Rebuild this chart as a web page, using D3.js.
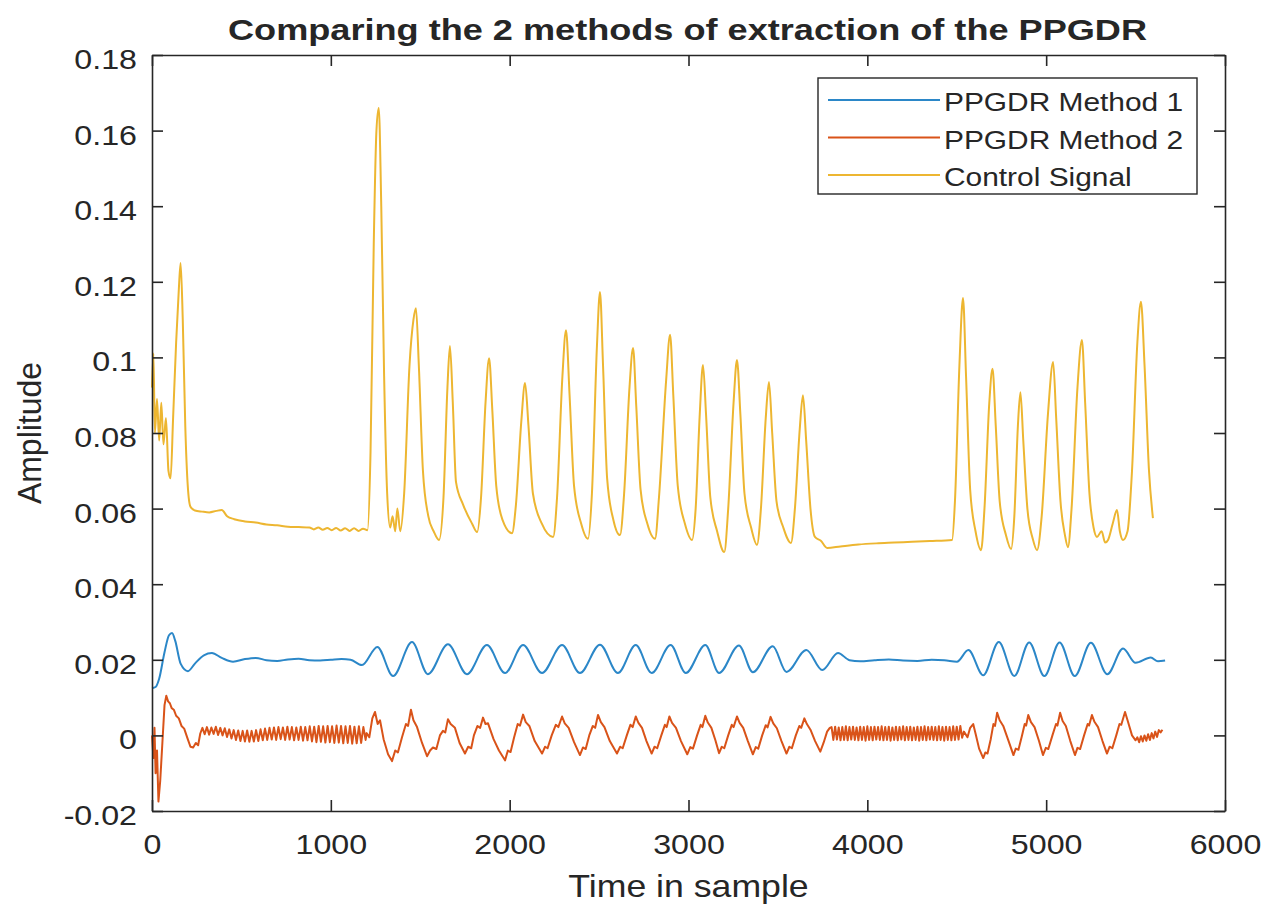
<!DOCTYPE html>
<html>
<head>
<meta charset="utf-8">
<script src="https://cdn.jsdelivr.net/npm/d3@7"></script>
<style>
  body { margin: 0; background: #fff; }
  svg { display: block; }
  text { font-family: "Liberation Sans", Arial, Helvetica, sans-serif; fill: #262626; }
</style>
</head>
<body>
<svg id="chart" width="1273" height="909"></svg>
<script>
// ---- Data: sample index vs amplitude ----
const chartTitle = "Comparing the 2 methods of extraction of the PPGDR";
const xLabel = "Time in sample";
const yLabel = "Amplitude";
const seriesNames = ["PPGDR Method 1", "PPGDR Method 2", "Control Signal"];

const xTickValues = [0, 1000, 2000, 3000, 4000, 5000, 6000];
const xTickLabels = ["0", "1000", "2000", "3000", "4000", "5000", "6000"];
const yTickValues = [-0.02, 0, 0.02, 0.04, 0.06, 0.08, 0.1, 0.12, 0.14, 0.16, 0.18];
const yTickLabels = ["-0.02", "0", "0.02", "0.04", "0.06", "0.08", "0.1", "0.12", "0.14", "0.16", "0.18"];

// PPGDR Method 1 : [sample, amplitude]
const method1 = [
  [0, 0.0125], [20, 0.0128], [40, 0.0150], [70, 0.0220], [95, 0.0265], [112, 0.0271],
  [130, 0.0250], [160, 0.0190], [201, 0.0170], [240, 0.0190], [290, 0.0212], [335, 0.0218],
  [390, 0.0205], [453, 0.0195], [520, 0.0202], [580, 0.0205], [640, 0.0199], [700, 0.0197],
  [760, 0.0201], [820, 0.0203], [880, 0.0199], [940, 0.0198], [1000, 0.0200], [1060, 0.0202],
  [1110, 0.0200], [1174, 0.0186], [1260, 0.0234], [1348, 0.0157], [1454, 0.0247], [1543, 0.0162],
  [1655, 0.0241], [1761, 0.0162], [1873, 0.0239], [1974, 0.0165], [2075, 0.0239], [2181, 0.0165],
  [2293, 0.0239], [2393, 0.0165], [2505, 0.0240], [2605, 0.0165], [2705, 0.0239], [2794, 0.0165],
  [2900, 0.0239], [2985, 0.0165], [3094, 0.0239], [3171, 0.0165], [3282, 0.0238], [3360, 0.0167],
  [3471, 0.0236], [3548, 0.0168], [3659, 0.0226], [3748, 0.0173], [3836, 0.0218], [3900, 0.0199],
  [3960, 0.0196], [4040, 0.0199], [4120, 0.0201], [4200, 0.0198], [4280, 0.0197], [4360, 0.0200],
  [4430, 0.0199], [4501, 0.0195], [4565, 0.0226], [4648, 0.0159], [4735, 0.0247], [4822, 0.0157],
  [4905, 0.0246], [4990, 0.0157], [5075, 0.0246], [5160, 0.0157], [5250, 0.0245], [5342, 0.0162],
  [5430, 0.0230], [5500, 0.0192], [5585, 0.0206], [5625, 0.0196], [5665, 0.0198]
];

// PPGDR Method 2 : start-up transient
const method2Start = [
  [0, 0.0000], [8, -0.0060], [14, 0.0020], [20, -0.0100], [28, -0.0040], [36, -0.0175],
  [46, -0.0120], [58, -0.0020], [70, 0.0080], [80, 0.0105], [90, 0.0090], [100, 0.0085],
  [110, 0.0072], [122, 0.0068], [135, 0.0052], [150, 0.0045], [165, 0.0025], [180, 0.0018],
  [200, -0.0010], [215, -0.0030], [230, -0.0032], [245, -0.0020], [258, -0.0026], [270, 0.0005]
];
// PPGDR Method 2 : fine ripple, samples 282 .. 1194.5 every 12.5
const method2RippleA = [
  0.0020, 0.0003, 0.0022, 0.0002, 0.0021, 0.0004, 0.0023, 0.0001, 0.0020, 0.0000,
  0.0019, -0.0004, 0.0016, -0.0008, 0.0014, -0.0012, 0.0013, -0.0015, 0.0012, -0.0016,
  0.0013, -0.0017, 0.0012, -0.0016, 0.0014, -0.0015, 0.0016, -0.0013, 0.0018, -0.0012,
  0.0020, -0.0011, 0.0021, -0.0012, 0.0022, -0.0010, 0.0021, -0.0012, 0.0023, -0.0011,
  0.0022, -0.0013, 0.0021, -0.0012, 0.0023, -0.0014, 0.0022, -0.0013, 0.0024, -0.0016,
  0.0023, -0.0018, 0.0025, -0.0017, 0.0024, -0.0019, 0.0025, -0.0018, 0.0024, -0.0020,
  0.0026, -0.0019, 0.0025, -0.0021, 0.0024, -0.0020, 0.0025, -0.0022, 0.0023, -0.0021,
  0.0024, -0.0020, 0.0022, -0.0012
];
const rippleAStart = 282, rippleAStep = 12.5;
// PPGDR Method 2 : oscillating stretch
const method2Mid = [
  [1200, 0.0006], [1215, -0.0005], [1232, 0.0045], [1247, 0.0062], [1262, 0.0030], [1275, 0.0040],
  [1295, -0.0010], [1320, -0.0050], [1342, -0.0068], [1360, -0.0040], [1375, -0.0045], [1398, -0.0005],
  [1420, 0.0030], [1432, 0.0025], [1448, 0.0068], [1462, 0.0040], [1482, 0.0022], [1510, -0.0020],
  [1538, -0.0055], [1555, -0.0040], [1571, -0.0032], [1590, -0.0036], [1610, 0.0000], [1627, 0.0012],
  [1640, 0.0008], [1655, 0.0043], [1670, 0.0030], [1694, 0.0020], [1720, -0.0020], [1750, -0.0048],
  [1768, -0.0030], [1785, -0.0034], [1800, 0.0000], [1820, 0.0025], [1835, 0.0020], [1851, 0.0047],
  [1865, 0.0030], [1879, 0.0032], [1910, -0.0010], [1940, -0.0040], [1974, -0.0066], [1990, -0.0040],
  [2005, -0.0044], [2025, -0.0005], [2045, 0.0030], [2058, 0.0026], [2075, 0.0055], [2090, 0.0035],
  [2110, 0.0025], [2140, -0.0015], [2181, -0.0048], [2198, -0.0030], [2212, -0.0034], [2235, 0.0000],
  [2258, 0.0028], [2272, 0.0022], [2293, 0.0050], [2308, 0.0032], [2330, 0.0020], [2360, -0.0018],
  [2393, -0.0052], [2410, -0.0032], [2425, -0.0036], [2445, 0.0000], [2465, 0.0025], [2478, 0.0020],
  [2494, 0.0054], [2510, 0.0035], [2530, 0.0022], [2560, -0.0015], [2600, -0.0048], [2618, -0.0030],
  [2632, -0.0034], [2655, 0.0000], [2675, 0.0028], [2688, 0.0022], [2705, 0.0050], [2720, 0.0033],
  [2740, 0.0020], [2765, -0.0015], [2794, -0.0048], [2810, -0.0030], [2825, -0.0034], [2848, 0.0000],
  [2868, 0.0028], [2878, 0.0022], [2893, 0.0050], [2908, 0.0033], [2930, 0.0020], [2958, -0.0015],
  [2993, -0.0050], [3010, -0.0031], [3025, -0.0035], [3048, 0.0000], [3068, 0.0028], [3078, 0.0022],
  [3094, 0.0052], [3108, 0.0034], [3128, 0.0020], [3150, -0.0012], [3171, -0.0047], [3186, -0.0030],
  [3200, -0.0034], [3222, 0.0000], [3242, 0.0028], [3252, 0.0022], [3271, 0.0050], [3286, 0.0033],
  [3306, 0.0020], [3332, -0.0015], [3360, -0.0050], [3376, -0.0031], [3390, -0.0035], [3412, 0.0000],
  [3432, 0.0027], [3442, 0.0021], [3459, 0.0049], [3474, 0.0032], [3494, 0.0019], [3520, -0.0015],
  [3548, -0.0048], [3564, -0.0030], [3578, -0.0034], [3600, 0.0000], [3620, 0.0025], [3630, 0.0020],
  [3648, 0.0045], [3662, 0.0030], [3682, 0.0015], [3708, -0.0015], [3737, -0.0043], [3755, -0.0020],
  [3775, 0.0010], [3790, 0.0020]
];
// PPGDR Method 2 : fine ripple, samples 3800 .. 4530 every 10
const method2RippleB = [
  0.0022, -0.0012, 0.0023, -0.0011, 0.0021, -0.0013, 0.0022, -0.0012, 0.0024, -0.0013,
  0.0022, -0.0011, 0.0023, -0.0012, 0.0021, -0.0013, 0.0023, -0.0012, 0.0022, -0.0014,
  0.0024, -0.0012, 0.0022, -0.0013, 0.0023, -0.0011, 0.0022, -0.0012, 0.0024, -0.0013,
  0.0022, -0.0012, 0.0023, -0.0014, 0.0021, -0.0012, 0.0023, -0.0013, 0.0022, -0.0011,
  0.0024, -0.0013, 0.0022, -0.0012, 0.0023, -0.0013, 0.0021, -0.0012, 0.0023, -0.0014,
  0.0022, -0.0012, 0.0024, -0.0013, 0.0022, -0.0011, 0.0023, -0.0012, 0.0022, -0.0013,
  0.0024, -0.0012, 0.0022, -0.0014, 0.0023, -0.0012, 0.0022, -0.0013, 0.0024, -0.0012,
  0.0023, -0.0011, 0.0025, -0.0006
];
const rippleBStart = 3800, rippleBStep = 10;
// PPGDR Method 2 : last oscillating stretch and tail
const method2End = [
  [4540, 0.0010], [4560, -0.0005], [4575, 0.0020], [4592, 0.0030], [4605, 0.0005], [4625, -0.0035],
  [4648, -0.0060], [4660, -0.0045], [4672, -0.0048], [4690, -0.0010], [4705, 0.0030], [4714, 0.0025],
  [4726, 0.0060], [4740, 0.0040], [4760, 0.0025], [4790, -0.0015], [4817, -0.0052], [4830, -0.0035],
  [4845, -0.0038], [4865, 0.0000], [4880, 0.0030], [4888, 0.0026], [4900, 0.0054], [4915, 0.0035],
  [4935, 0.0022], [4960, -0.0015], [4982, -0.0052], [4998, -0.0033], [5012, -0.0036], [5035, 0.0000],
  [5055, 0.0030], [5063, 0.0026], [5078, 0.0060], [5092, 0.0038], [5110, 0.0025], [5135, -0.0015],
  [5161, -0.0052], [5175, -0.0033], [5190, -0.0036], [5212, 0.0000], [5232, 0.0030], [5240, 0.0026],
  [5256, 0.0054], [5270, 0.0036], [5290, 0.0022], [5315, -0.0015], [5340, -0.0048], [5355, -0.0030],
  [5370, -0.0034], [5392, 0.0000], [5410, 0.0030], [5420, 0.0028], [5441, 0.0062], [5455, 0.0040],
  [5480, 0.0000], [5500, -0.0013], [5510, -0.0005], [5520, -0.0018], [5530, -0.0002], [5540, -0.0016],
  [5550, 0.0000], [5560, -0.0014], [5570, 0.0003], [5580, -0.0012], [5590, 0.0006], [5600, -0.0008],
  [5610, 0.0010], [5620, -0.0004], [5630, 0.0014], [5640, 0.0008], [5650, 0.0015]
];

// Control Signal : [sample, amplitude]
const controlSignal = [
  [0, 0.0920], [8, 0.1010], [16, 0.0800], [28, 0.0890], [40, 0.0780], [52, 0.0880], [64, 0.0770],
  [78, 0.0840], [92, 0.0700], [104, 0.0680], [118, 0.0840], [135, 0.1040], [150, 0.1180], [160, 0.1250],
  [172, 0.1100], [186, 0.0820], [200, 0.0660], [215, 0.0605], [240, 0.0595], [280, 0.0592], [320, 0.0590],
  [360, 0.0594], [390, 0.0596], [420, 0.0580], [460, 0.0572], [520, 0.0566], [580, 0.0563], [640, 0.0558],
  [700, 0.0556], [760, 0.0552], [820, 0.0551], [880, 0.0550], [905, 0.0545], [930, 0.0550], [955, 0.0544],
  [980, 0.0549], [1005, 0.0543], [1030, 0.0549], [1055, 0.0542], [1080, 0.0548], [1105, 0.0541],
  [1130, 0.0548], [1155, 0.0541], [1180, 0.0547], [1205, 0.0543],
  [1222, 0.0750], [1240, 0.1300], [1255, 0.1600], [1268, 0.1660], [1282, 0.1400], [1298, 0.0950],
  [1315, 0.0640], [1332, 0.0550], [1345, 0.0580], [1360, 0.0540], [1372, 0.0600], [1388, 0.0540],
  [1410, 0.0640], [1440, 0.0980], [1462, 0.1100], [1476, 0.1130], [1492, 0.0980], [1515, 0.0700],
  [1545, 0.0580], [1575, 0.0540], [1605, 0.0517],
  [1630, 0.0630], [1652, 0.0920], [1666, 0.1030], [1682, 0.0880], [1700, 0.0670], [1740, 0.0610],
  [1790, 0.0560], [1818, 0.0538], [1840, 0.0630], [1865, 0.0880], [1885, 0.0998], [1903, 0.0860],
  [1925, 0.0660], [1960, 0.0570], [2013, 0.0535], [2035, 0.0610], [2065, 0.0830], [2086, 0.0932],
  [2105, 0.0820], [2130, 0.0640], [2180, 0.0560], [2243, 0.0525], [2265, 0.0630], [2295, 0.0950],
  [2315, 0.1072], [2335, 0.0900], [2360, 0.0660], [2400, 0.0560], [2438, 0.0520], [2460, 0.0640],
  [2488, 0.1030], [2505, 0.1173], [2522, 0.0980], [2545, 0.0680], [2580, 0.0570], [2617, 0.0530],
  [2640, 0.0640], [2670, 0.0920], [2690, 0.1025], [2708, 0.0870], [2732, 0.0650], [2770, 0.0560],
  [2813, 0.0520], [2835, 0.0630], [2875, 0.0940], [2897, 0.1060], [2915, 0.0900], [2940, 0.0660],
  [2980, 0.0560], [3020, 0.0517], [3040, 0.0600], [3063, 0.0850], [3081, 0.0980], [3098, 0.0850],
  [3122, 0.0630], [3160, 0.0540], [3200, 0.0485], [3222, 0.0600], [3252, 0.0880], [3271, 0.0993],
  [3290, 0.0850], [3313, 0.0640], [3350, 0.0550], [3383, 0.0504], [3405, 0.0600], [3432, 0.0840],
  [3450, 0.0935], [3468, 0.0800], [3492, 0.0620], [3530, 0.0550], [3573, 0.0509], [3595, 0.0600],
  [3622, 0.0810], [3640, 0.0900], [3658, 0.0780], [3682, 0.0600], [3707, 0.0525], [3740, 0.0515],
  [3775, 0.0496], [3850, 0.0500], [3950, 0.0505], [4050, 0.0508], [4150, 0.0510], [4250, 0.0512],
  [4350, 0.0514], [4474, 0.0517],
  [4490, 0.0620], [4515, 0.0980], [4535, 0.1157], [4552, 0.0950], [4575, 0.0650], [4605, 0.0540],
  [4636, 0.0490], [4655, 0.0600], [4682, 0.0880], [4700, 0.0970], [4718, 0.0820], [4740, 0.0620],
  [4775, 0.0530], [4804, 0.0493], [4822, 0.0580], [4842, 0.0820], [4856, 0.0908], [4872, 0.0780],
  [4895, 0.0600], [4925, 0.0520], [4949, 0.0490], [4975, 0.0580], [5010, 0.0850], [5039, 0.0988],
  [5056, 0.0840], [5080, 0.0620], [5105, 0.0530], [5122, 0.0498], [5142, 0.0600], [5175, 0.0920],
  [5200, 0.1046], [5218, 0.0880], [5242, 0.0640], [5265, 0.0550], [5284, 0.0525], [5310, 0.0540],
  [5330, 0.0510], [5346, 0.0517], [5372, 0.0560], [5396, 0.0596], [5412, 0.0540], [5430, 0.0517],
  [5455, 0.0540], [5480, 0.0700], [5510, 0.1040], [5530, 0.1147], [5550, 0.0980], [5575, 0.0700],
  [5597, 0.0575]
];

// ---- Assemble Method 2 from its segments ----
const rippleToPairs = (vals, start, step) => vals.map((v, i) => [start + i * step, v]);
const method2 = [].concat(
  method2Start,
  rippleToPairs(method2RippleA, rippleAStart, rippleAStep),
  method2Mid,
  rippleToPairs(method2RippleB, rippleBStart, rippleBStep),
  method2End
);

const colors = ["#2b87c8", "#d95319", "#edb631"];
const seriesData = [method1, method2, controlSignal];
const curves = [d3.curveMonotoneX, d3.curveLinear, d3.curveMonotoneX];

// ---- Layout ----
const svg = d3.select("#chart");
const plot = { left: 152, right: 1225, top: 55, bottom: 811 };
const stretch = 1.15;
const axisColor = "#262626";

const x = d3.scaleLinear().domain([0, 6000]).range([plot.left, plot.right]);
const y = d3.scaleLinear().domain([-0.02, 0.18]).range([plot.bottom, plot.top]);

svg.append("rect").attr("width", 1273).attr("height", 909).attr("fill", "#fff");

// ---- Series ----
const g = svg.append("g");
seriesData.forEach((data, i) => {
  g.append("path")
    .datum(data)
    .attr("fill", "none")
    .attr("stroke", colors[i])
    .attr("stroke-width", 2)
    .attr("stroke-linejoin", "round")
    .attr("d", d3.line().x(d => x(d[0])).y(d => y(d[1])).curve(curves[i]));
});

// ---- Axes (box with inward ticks on all four sides) ----
const fmtX = d => xTickLabels[xTickValues.indexOf(d)];
const fmtY = d => yTickLabels[yTickValues.findIndex(v => Math.abs(v - d) < 1e-9)];

function styleAxis(sel) {
  sel.attr("color", axisColor).attr("font-size", 28)
     .attr("font-family", '"Liberation Sans", Arial, sans-serif');
  sel.selectAll("path.domain").attr("stroke-width", 1.6);
  sel.selectAll(".tick line").attr("stroke-width", 1.6);
}

const bottomAxis = svg.append("g")
  .attr("transform", `translate(0,${plot.bottom})`)
  .call(d3.axisBottom(x).tickValues(xTickValues).tickSize(-11).tickSizeOuter(0).tickFormat(fmtX))
  .call(styleAxis);
bottomAxis.selectAll(".tick text")
  .attr("y", null).attr("dy", null)
  .attr("transform", `translate(0,43) scale(${stretch},1)`);

svg.append("g")
  .attr("transform", `translate(0,${plot.top})`)
  .call(d3.axisTop(x).tickValues(xTickValues).tickSize(-11).tickSizeOuter(0).tickFormat(""))
  .call(styleAxis);

const leftAxis = svg.append("g")
  .attr("transform", `translate(${plot.left},0)`)
  .call(d3.axisLeft(y).tickValues(yTickValues).tickSize(-11).tickSizeOuter(0).tickFormat(fmtY))
  .call(styleAxis);
leftAxis.selectAll(".tick text")
  .attr("x", null).attr("dy", null)
  .attr("transform", `translate(-15,13.5) scale(${stretch},1)`);

svg.append("g")
  .attr("transform", `translate(${plot.right},0)`)
  .call(d3.axisRight(y).tickValues(yTickValues).tickSize(-11).tickSizeOuter(0).tickFormat(""))
  .call(styleAxis);

// ---- Titles ----
svg.append("text")
  .attr("x", 687.5).attr("y", 40)
  .attr("text-anchor", "middle")
  .attr("font-size", 30)
  .attr("font-weight", "bold")
  .attr("textLength", 919)
  .attr("lengthAdjust", "spacingAndGlyphs")
  .text(chartTitle);

svg.append("text")
  .attr("transform", `translate(${(plot.left + plot.right) / 2},897) scale(${stretch},1)`)
  .attr("text-anchor", "middle")
  .attr("font-size", 31)
  .text(xLabel);

svg.append("text")
  .attr("transform", `translate(41,${(plot.top + plot.bottom) / 2}) scale(1.05,1) rotate(-90)`)
  .attr("text-anchor", "middle")
  .attr("font-size", 32)
  .text(yLabel);

// ---- Legend ----
const legend = svg.append("g");
legend.append("rect")
  .attr("x", 818).attr("y", 78).attr("width", 379).attr("height", 116)
  .attr("fill", "#fff").attr("stroke", axisColor).attr("stroke-width", 1.4);
seriesNames.forEach((name, i) => {
  const cy = 100 + i * 37.5;
  legend.append("line")
    .attr("x1", 828).attr("x2", 940).attr("y1", cy).attr("y2", cy)
    .attr("stroke", colors[i]).attr("stroke-width", 2);
  legend.append("text")
    .attr("transform", `translate(944,${cy + 11}) scale(${stretch},1)`)
    .attr("font-size", 26)
    .text(name);
});
</script>
</body>
</html>
